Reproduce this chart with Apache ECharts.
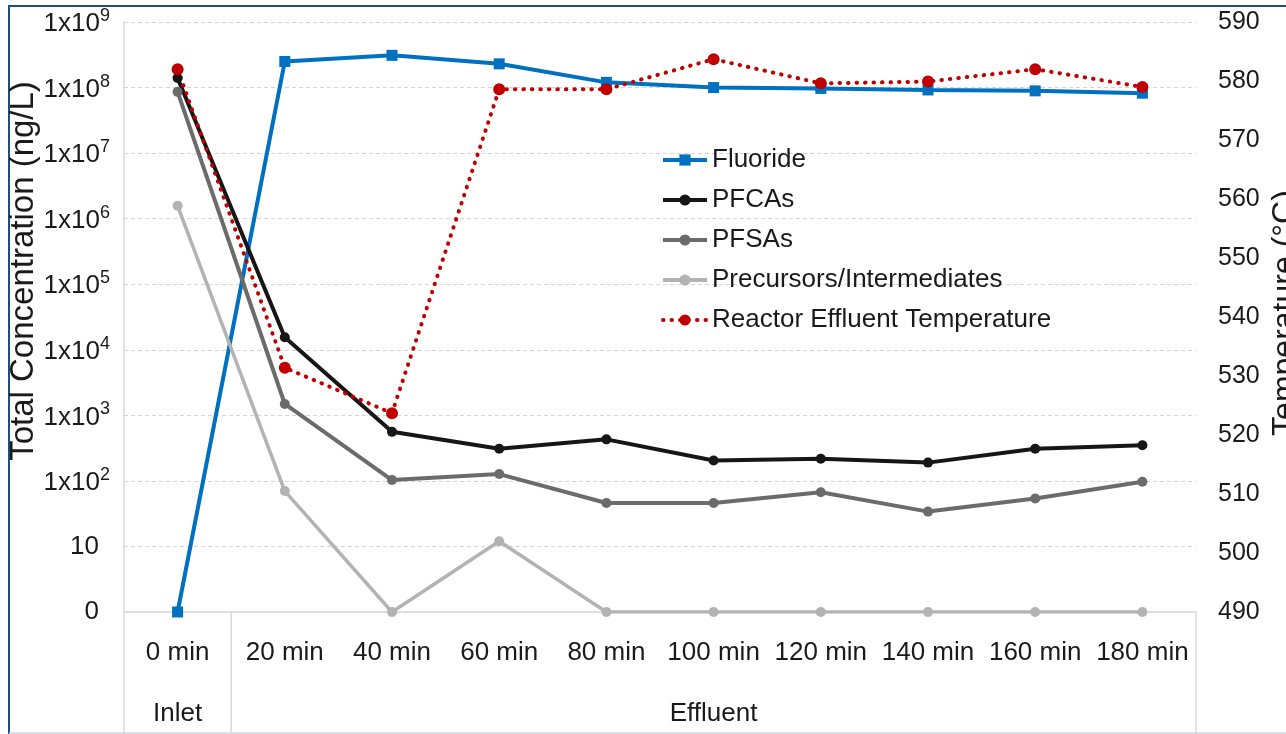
<!DOCTYPE html>
<html>
<head>
<meta charset="utf-8">
<title>Total concentration and reactor temperature</title>
<script src="https://cdn.jsdelivr.net/npm/echarts@6/dist/echarts.min.js"></script>
<style>
  html, body { margin: 0; padding: 0; background: #fff; }
  #chart { width: 1286px; height: 734px; }
</style>
</head>
<body>
<div id="chart"></div>
<script>
'use strict'

/*----data----*/
// a value of 1 sits on the "0" tick of the log axis
var times = ['0 min', '20 min', '40 min', '60 min', '80 min', '100 min', '120 min', '140 min', '160 min', '180 min'];
var groups = ['Inlet', 'Effluent'];
var fluoride = [1, 2.5e8, 3.1e8, 2.3e8, 1.2e8, 1.0e8, 9.7e7, 9.2e7, 8.9e7, 8.2e7];
var pfcas = [1.4e8, 1.55e4, 560, 310, 430, 205, 218, 190, 310, 350];
var pfsas = [8.6e7, 1490, 103, 127, 46, 46, 67, 34, 54, 97];
var precursors = [1.57e6, 70, 1, 12, 1, 1, 1, 1, 1, 1];
var temperature = [582, 531.4, 523.7, 578.6, 578.6, 583.7, 579.6, 579.9, 582, 579];
var tempTicks = [490, 500, 510, 520, 530, 540, 550, 560, 570, 580, 590];

var font = '"Liberation Sans", Arial, sans-serif';
var ink = '#1a1a1a';
var rule = '#d9d9d9';

var chart = echarts.init(document.getElementById('chart'), null, { renderer: 'canvas' });

function lineSeries(name, data, color, symbol, size, width, axis) {
	return {
		name: name,
		type: 'line',
		yAxisIndex: axis,
		data: data,
		symbol: symbol,
		symbolSize: size,
		itemStyle: { color: color },
		lineStyle: { color: color, width: width },
		emphasis: { disabled: true }
	};
}

var temp = lineSeries('Reactor Effluent Temperature', temperature, '#c00000', 'circle', 12, 4, 1);
temp.lineStyle.type = [0.5, 8];
temp.lineStyle.cap = 'round';

var option = {
	animation: false,
	textStyle: { fontFamily: font, color: ink },
	grid: { left: 124, right: 90, top: 22, bottom: 122 },
	legend: {
		orient: 'vertical',
		left: 656,
		top: 142,
		itemWidth: 44,
		itemHeight: 14,
		itemGap: 14,
		lineStyle: { width: 4 },
		textStyle: { fontFamily: font, fontSize: 26, color: ink },
		data: ['Fluoride', 'PFCAs', 'PFSAs', 'Precursors/Intermediates', 'Reactor Effluent Temperature']
	},
	xAxis: {
		type: 'category',
		data: times,
		boundaryGap: true,
		axisLine: { lineStyle: { color: rule, width: 1.5 } },
		axisTick: { show: false },
		axisLabel: { fontFamily: font, fontSize: 26, color: ink, margin: 28, interval: 0 }
	},
	yAxis: [{
		type: 'log',
		logBase: 10,
		min: 1,
		max: 1e9,
		splitNumber: 9,
		axisLine: { show: true, lineStyle: { color: rule, width: 1.5 } },
		axisTick: { show: false },
		splitLine: { show: true, lineStyle: { color: '#d4d4d4', type: [4, 3], width: 1 } },
		axisLabel: {
			margin: 14,
			formatter: function (v) {
				if (v <= 1) return '{p|0}';
				if (v === 10) return '{p|10}';
				return '{b|1x10}{s|' + Math.round(Math.log10(v)) + '}';
			},
			rich: {
				p: { fontFamily: font, fontSize: 26, color: ink, padding: [0, 11, 0, 0] },
				b: { fontFamily: font, fontSize: 26, color: ink, verticalAlign: 'bottom' },
				s: { fontFamily: font, fontSize: 18, color: ink, verticalAlign: 'bottom', padding: [0, 0, 12, 0] }
			}
		}
	}, {
		type: 'value',
		min: tempTicks[0],
		max: tempTicks[tempTicks.length - 1],
		interval: 10,
		axisLine: { show: false },
		axisTick: { show: false },
		splitLine: { show: false },
		axisLabel: { fontFamily: font, fontSize: 25, color: ink, margin: 22 }
	}],
	series: [
		lineSeries('Fluoride', fluoride, '#0070c0', 'rect', 11, 4, 0),
		lineSeries('PFCAs', pfcas, '#161616', 'circle', 10, 4, 0),
		lineSeries('PFSAs', pfsas, '#6b6b6b', 'circle', 10, 4, 0),
		lineSeries('Precursors/Intermediates', precursors, '#b3b3b3', 'circle', 10, 3.5, 0),
		temp
	]
};
chart.setOption(option);

/*----frame, table lines and group labels----*/
var px = times.map(function (t, i) { return chart.convertToPixel({ xAxisIndex: 0 }, i); });
var step = px[1] - px[0];
var axisY = chart.convertToPixel({ yAxisIndex: 0 }, 1);
var leftX = px[0] - step / 2;
var splitX = px[0] + step / 2;
var rightX = px[px.length - 1] + step / 2;

function vline(x, y1, y2) {
	return { type: 'line', silent: true, shape: { x1: x, y1: y1, x2: x, y2: y2 }, style: { stroke: rule, lineWidth: 1.5 } };
}

chart.setOption({
	graphic: [
		{ type: 'rect', silent: true, shape: { x: 9, y: 6, width: 1300, height: 760 }, style: { fill: null, stroke: '#1d4f7c', lineWidth: 2 } },
		vline(leftX, axisY, 734),
		vline(splitX, axisY, 734),
		vline(rightX, axisY, 734),
		{ type: 'line', silent: true, shape: { x1: 9, y1: 733, x2: 1286, y2: 733 }, style: { stroke: '#cdd6e0', lineWidth: 1.5 } },
		{ type: 'text', silent: true, x: px[0], y: 714, style: { text: groups[0], font: '26px ' + font, fill: ink, align: 'center', verticalAlign: 'middle' } },
		{ type: 'text', silent: true, x: (px[1] + px[px.length - 1]) / 2, y: 714, style: { text: groups[1], font: '26px ' + font, fill: ink, align: 'center', verticalAlign: 'middle' } },
		{ type: 'text', silent: true, x: 24, y: 271, rotation: Math.PI / 2, style: { text: 'Total Concentration (ng/L)', font: '33px ' + font, fill: ink, align: 'center', verticalAlign: 'middle' } },
		{ type: 'text', silent: true, x: 1285, y: 313, rotation: Math.PI / 2, style: { text: 'Temperature (°C)', font: '32px ' + font, fill: ink, align: 'center', verticalAlign: 'middle' } }
	]
});
</script>
</body>
</html>
